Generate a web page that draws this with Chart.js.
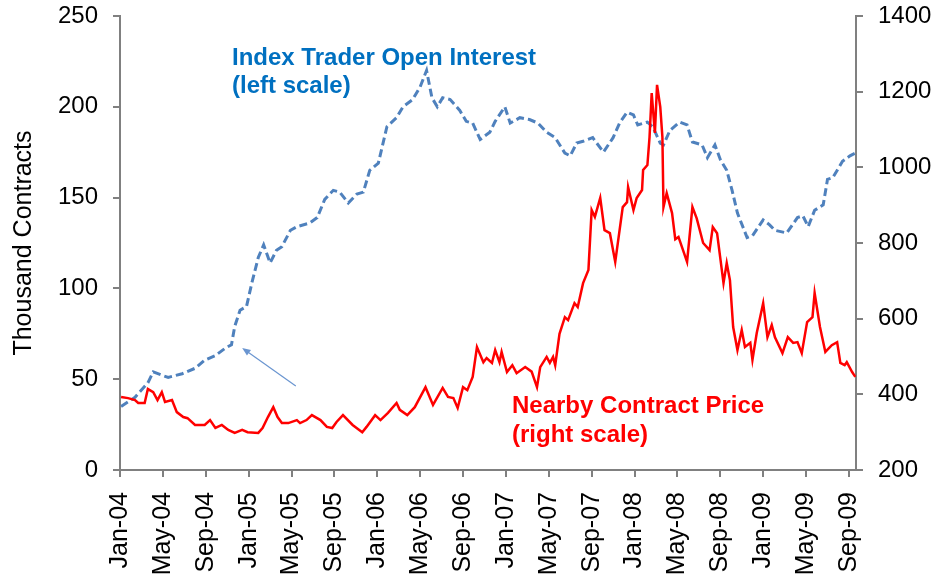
<!DOCTYPE html>
<html>
<head>
<meta charset="utf-8">
<script src="https://cdn.jsdelivr.net/npm/chart.js@4.4.1/dist/chart.umd.min.js"></script>
<style>
  html, body { margin: 0; padding: 0; background: #fff; }
</style>
</head>
<body>
<canvas id="myChart" width="937" height="581"></canvas>
<script>
// x values are months since Jan-04
const tickMonths = [0, 4, 8, 12, 16, 20, 24, 28, 32, 36, 40, 44, 48, 52, 56, 60, 64, 68];
const tickLabels = ['Jan-04', 'May-04', 'Sep-04', 'Jan-05', 'May-05', 'Sep-05', 'Jan-06', 'May-06', 'Sep-06',
    'Jan-07', 'May-07', 'Sep-07', 'Jan-08', 'May-08', 'Sep-08', 'Jan-09', 'May-09', 'Sep-09'];

// Index trader open interest, thousand contracts (left scale)
const oiMonths = [0.1, 1.4, 2.6, 3.1, 4.0, 4.5, 5.8, 7.0, 7.9, 8.9, 9.8, 10.4, 10.7, 11.2, 11.8, 12.3, 12.9, 13.4,
    14.0, 14.6, 15.1, 15.9, 16.5, 17.7, 18.4, 19.1, 19.9, 20.5, 21.3, 22.1, 22.7, 23.3, 24.1, 24.9, 25.8, 26.4,
    27.3, 28.0, 28.6, 29.1, 29.6, 30.1, 30.8, 31.7, 32.3, 32.9, 33.6, 34.5, 35.0, 35.9, 36.4, 37.3, 38.2, 39.0,
    39.8, 40.6, 41.5, 42.0, 42.6, 43.2, 44.1, 45.1, 46.0, 46.6, 47.3, 47.9, 48.3, 49.2, 49.7, 50.4, 50.7, 51.3,
    52.2, 52.9, 53.4, 54.3, 54.8, 55.5, 56.0, 56.6, 57.1, 57.6, 58.5, 59.0, 60.0, 60.6, 61.1, 62.2, 63.2, 63.7,
    64.2, 64.8, 65.6, 66.0, 66.5, 67.4, 68.1, 68.6];
const oiValues = [35, 40, 48, 54, 52, 51, 53, 56, 60.5, 63, 67, 69, 79, 88, 90, 103, 117, 124,
    114, 121, 123, 132, 134, 136, 139, 149, 154, 153, 147, 152, 153, 165, 169, 189, 194, 200,
    204, 211, 220, 205, 200, 205, 204, 198, 192, 191, 182, 186, 192, 200, 191, 194, 193, 191,
    186, 183, 174.5, 173, 180, 181, 183, 175, 183, 191, 197, 195.5, 190, 191.6, 189, 180, 179, 187,
    191.6, 190, 180.6, 179, 172, 179, 171, 165, 154, 141.5, 128, 129, 137.7, 135, 132, 130.5, 139, 140,
    134, 143, 146, 160, 161, 170, 173, 174.5];

// Nearby contract price (right scale)
const priceMonths = [0.1, 0.75, 1.4, 1.7, 2.3, 2.6, 3.1, 3.5, 3.9, 4.2, 4.85, 5.3, 5.9, 6.3, 7.0, 7.9, 8.4, 8.9,
    9.5, 10.1, 10.7, 11.4, 11.9, 12.9, 13.3, 13.8, 14.3, 14.7, 15.1, 15.7, 16.5, 16.8, 17.4, 17.9, 18.7, 19.3,
    19.8, 20.2, 20.8, 21.7, 22.6, 23.0, 23.8, 24.3, 25.0, 25.8, 26.1, 26.8, 27.5, 28.5, 29.2, 30.1, 30.6, 31.1,
    31.5, 32.0, 32.4, 32.9, 33.3, 33.9, 34.2, 34.7, 35.0, 35.4, 35.6, 36.1, 36.6, 37.0, 37.8, 38.4, 38.9, 39.2,
    39.8, 40.1, 40.4, 40.6, 41.0, 41.5, 41.8, 42.4, 42.7, 43.2, 43.7, 44.0, 44.3, 44.8, 45.2, 45.7, 46.2, 46.9,
    47.3, 47.4, 47.9, 48.2, 48.7, 48.8, 49.2, 49.4, 49.6, 49.9, 50.1, 50.4, 50.6, 50.7, 51.0, 51.5, 51.8, 52.1,
    52.9, 53.4, 53.8, 54.4, 55.0, 55.3, 55.7, 56.3, 56.6, 56.9, 57.2, 57.6, 58.0, 58.3, 58.8, 59.0, 59.4, 60.0,
    60.4, 60.8, 61.1, 61.8, 62.3, 62.8, 63.2, 63.6, 64.1, 64.6, 64.8, 65.3, 65.8, 66.4, 66.9, 67.2, 67.6, 67.8,
    68.3, 68.6];
const priceValues = [393, 390, 385, 377, 377, 414, 406, 385, 406, 380, 385, 353, 340, 337, 319, 319, 332, 311,
    319, 306, 298, 306, 300, 298, 311, 340, 366, 340, 324, 324, 332, 324, 332, 345, 332, 314,
    311, 327, 345, 319, 300, 314, 345, 332, 351, 377, 359, 345, 366, 419, 372, 417, 393, 390,
    364, 419, 411, 446, 525, 485, 496, 483, 517, 485, 512, 459, 477, 456, 472, 460, 419, 472,
    499, 483, 499, 477, 560, 604, 596, 641, 631, 694, 729, 887, 869, 919, 834, 826, 750, 895,
    908, 948, 887, 919, 940, 993, 1006, 1080, 1196, 1091, 1218, 1160, 1080, 895, 932, 879, 810, 816,
    750, 895, 865, 800, 781, 842, 826, 694, 747, 702, 578, 517, 570, 525, 536, 491, 562, 641,
    551, 583, 551, 509, 551, 536, 538, 509, 591, 604, 668, 578, 512, 530, 538, 483, 477, 485,
    459, 446];

// arrow pointing at the open interest line: [month, left-scale value]
const arrowTail = [16.4, 46.3];
const arrowHead = [11.4, 67.2];

const FONT = '"Liberation Sans", Arial, sans-serif';

function toPoints(xs, ys) {
    return xs.map((x, i) => ({ x: x, y: ys[i] }));
}

// Text labels and the arrow drawn on top of the chart
const annotations = {
    id: 'annotations',
    afterDraw(chart) {
        const c = chart.ctx;
        const sx = chart.scales.x, sy = chart.scales.y;
        c.save();
        c.font = 'bold 24px ' + FONT;
        c.textBaseline = 'alphabetic';
        c.fillStyle = '#0070C0';
        c.fillText('Index Trader Open Interest', 232, 65);
        c.fillText('(left scale)', 232, 93);
        c.fillStyle = '#FF0000';
        c.fillText('Nearby Contract Price', 512, 413);
        c.fillText('(right scale)', 512, 442);

        const x0 = sx.getPixelForValue(arrowTail[0]), y0 = sy.getPixelForValue(arrowTail[1]);
        const x1 = sx.getPixelForValue(arrowHead[0]), y1 = sy.getPixelForValue(arrowHead[1]);
        const ang = Math.atan2(y1 - y0, x1 - x0);
        c.strokeStyle = '#6A95D0';
        c.fillStyle = '#6A95D0';
        c.lineWidth = 1.2;
        c.beginPath();
        c.moveTo(x0, y0);
        c.lineTo(x1 - 6 * Math.cos(ang), y1 - 6 * Math.sin(ang));
        c.stroke();
        c.beginPath();
        c.moveTo(x1, y1);
        c.lineTo(x1 - 9 * Math.cos(ang - 0.4), y1 - 9 * Math.sin(ang - 0.4));
        c.lineTo(x1 - 9 * Math.cos(ang + 0.4), y1 - 9 * Math.sin(ang + 0.4));
        c.closePath();
        c.fill();
        c.restore();
    }
};

const axisGrid = { drawOnChartArea: false, tickLength: 7, color: '#808080', lineWidth: 2 };
const axisBorder = { color: '#808080', width: 2 };
const tickFont = { family: FONT, size: 24 };

// fixed box sizes so the plot area sits where the reference has it
function fixWidth(w) {
    return s => { s.width = w; s.paddingTop = 0; s.paddingBottom = 0; };
}

const ctx = document.getElementById('myChart').getContext('2d');
const myChart = new Chart(ctx, {
    type: 'line',
    data: {
        datasets: [{
            label: 'Nearby Contract Price',
            data: toPoints(priceMonths, priceValues),
            yAxisID: 'y1',
            borderColor: '#FF0000',
            borderWidth: 2.5,
            pointRadius: 0,
            order: 0
        }, {
            label: 'Index Trader Open Interest',
            data: toPoints(oiMonths, oiValues),
            yAxisID: 'y',
            borderColor: '#4F81BD',
            borderWidth: 3,
            borderDash: [8, 4],
            pointRadius: 0,
            order: 1
        }]
    },
    options: {
        responsive: false,
        animation: false,
        layout: { padding: { top: 16, left: 0, right: 0, bottom: 0 } },
        plugins: {
            legend: { display: false },
            tooltip: { enabled: false }
        },
        scales: {
            x: {
                type: 'linear',
                min: 0,
                max: 68.66,
                afterBuildTicks: s => { s.ticks = tickMonths.map(v => ({ value: v })); },
                afterFit: s => { s.height = 111; },
                ticks: {
                    callback: (v, i) => tickLabels[i],
                    minRotation: 90,
                    maxRotation: 90,
                    padding: 15,
                    color: '#000',
                    font: { family: FONT, size: 25 }
                },
                grid: axisGrid,
                border: axisBorder
            },
            y: {
                position: 'left',
                min: 0,
                max: 250,
                afterFit: fixWidth(120),
                ticks: { stepSize: 50, padding: 15, color: '#000', font: tickFont, callback: v => String(v) },
                title: {
                    display: true,
                    text: 'Thousand Contracts',
                    color: '#000',
                    font: { family: FONT, size: 25 },
                    padding: { top: 9, bottom: 0 }
                },
                grid: axisGrid,
                border: axisBorder
            },
            y1: {
                position: 'right',
                min: 200,
                max: 1400,
                afterFit: fixWidth(81),
                ticks: { stepSize: 200, padding: 15, color: '#000', font: tickFont, callback: v => String(v) },
                grid: axisGrid,
                border: axisBorder
            }
        }
    },
    plugins: [annotations]
});
</script>
</body>
</html>
